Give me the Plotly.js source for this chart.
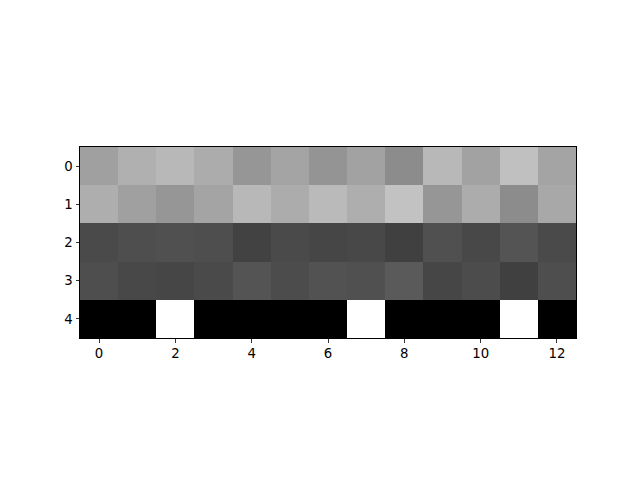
<!DOCTYPE html>
<html>
<head>
<meta charset="utf-8">
<script src="https://cdn.plot.ly/plotly-3.0.1.min.js"></script>
<style>html,body{margin:0;padding:0;background:#fff;}#chart{width:640px;height:480px;}</style>
</head>
<body>
<div id="chart"></div>
<script>
// grayscale intensities (0 = black, 255 = white)
const cols = [0,1,2,3,4,5,6,7,8,9,10,11,12];
const rows = [0,1,2,3,4];
const row0 = [160,176,184,172,150,164,148,162,140,184,162,192,164];
const row1 = [174,160,150,164,184,172,186,174,194,150,172,140,168];
const row2 = [74,78,80,78,66,74,70,72,64,80,72,84,74];
const row3 = [78,72,70,74,84,76,82,80,90,70,76,64,78];
const row4 = [0,0,255,0,0,0,0,255,0,0,0,255,0];
const xTicks = [0,2,4,6,8,10,12];
const yTicks = [0,1,2,3,4];

const z = [row0,row1,row2,row3,row4];

const trace = {
  type: 'heatmap',
  x: cols, y: rows, z: z,
  colorscale: [[0,'#000000'],[1,'#ffffff']],
  zmin: 0, zmax: 255,
  showscale: false,
  hoverinfo: 'none'
};

const axisCommon = {
  showgrid: false, zeroline: false,
  showline: true, mirror: true, linecolor: '#000', linewidth: 1,
  ticks: 'outside', ticklen: 3.5, tickwidth: 0.8, tickcolor: '#000',
  tickfont: {family: 'DejaVu Sans', size: 13.3, color: '#000'}
};

const layout = {
  width: 640, height: 480,
  margin: {l: 80, r: 64, t: 147, b: 142},
  paper_bgcolor: '#fff', plot_bgcolor: '#fff',
  xaxis: Object.assign({}, axisCommon, {range: [-0.5, 12.5], tickvals: xTicks, ticktext: xTicks.map(String)}),
  yaxis: Object.assign({}, axisCommon, {range: [4.5, -0.5], tickvals: yTicks, ticktext: yTicks.map(String)}),
  showlegend: false
};

Plotly.newPlot('chart', [trace], layout, {staticPlot: true, displayModeBar: false});
</script>
</body>
</html>
